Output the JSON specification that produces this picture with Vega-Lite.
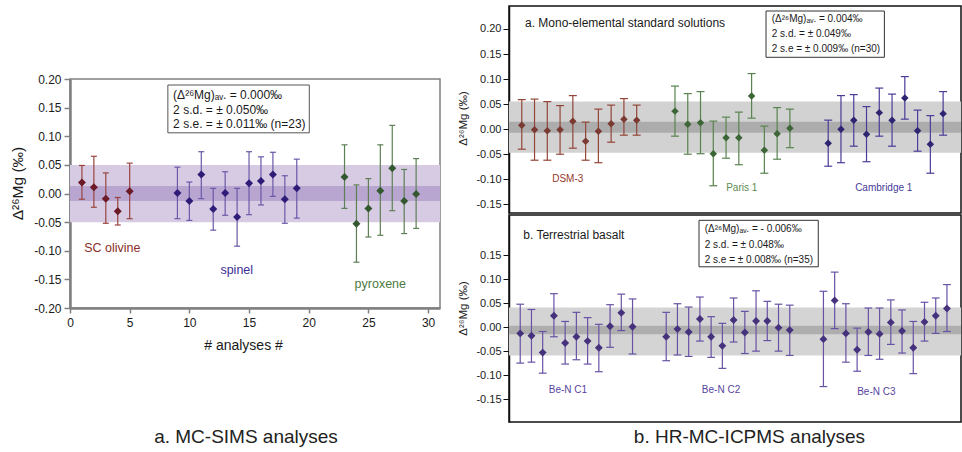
{
"$schema": "https://vega.github.io/schema/vega-lite/v6.json",
"padding": {"left": 9, "top": 5, "right": 0, "bottom": 0},
"background": "white",
"resolve": {"scale": {"color": "independent", "fill": "independent", "stroke": "independent"}},
"config": {
  "font": "Liberation Sans",
  "locale": {"number": {"decimal": ".", "thousands": ",", "grouping": [3], "currency": ["$", ""], "minus": "-"}},
  "axis": {"grid": false, "labelFont": "Liberation Sans", "titleFont": "Liberation Sans", "titleFontWeight": "normal"},
  "title": {"font": "Liberation Sans", "fontWeight": "normal", "color": "#222"}
},
"datasets": {
  "left": [
    {"x":1,"v":0.019,"lo":-0.010,"hi":0.049,"g":"SC olivine"},
    {"x":2,"v":0.011,"lo":-0.024,"hi":0.065,"g":"SC olivine"},
    {"x":3,"v":-0.009,"lo":-0.052,"hi":0.036,"g":"SC olivine"},
    {"x":4,"v":-0.031,"lo":-0.055,"hi":-0.007,"g":"SC olivine"},
    {"x":5,"v":0.004,"lo":-0.044,"hi":0.053,"g":"SC olivine"},
    {"x":9,"v":0.001,"lo":-0.044,"hi":0.046,"g":"spinel"},
    {"x":10,"v":-0.013,"lo":-0.047,"hi":0.020,"g":"spinel"},
    {"x":11,"v":0.033,"lo":-0.009,"hi":0.073,"g":"spinel"},
    {"x":12,"v":-0.027,"lo":-0.064,"hi":0.009,"g":"spinel"},
    {"x":13,"v":0.001,"lo":-0.038,"hi":0.038,"g":"spinel"},
    {"x":14,"v":-0.041,"lo":-0.092,"hi":0.009,"g":"spinel"},
    {"x":15,"v":0.018,"lo":-0.037,"hi":0.073,"g":"spinel"},
    {"x":16,"v":0.022,"lo":-0.020,"hi":0.064,"g":"spinel"},
    {"x":17,"v":0.033,"lo":-0.005,"hi":0.072,"g":"spinel"},
    {"x":18,"v":-0.010,"lo":-0.052,"hi":0.031,"g":"spinel"},
    {"x":19,"v":0.009,"lo":-0.043,"hi":0.060,"g":"spinel"},
    {"x":23,"v":0.029,"lo":-0.026,"hi":0.085,"g":"pyroxene"},
    {"x":24,"v":-0.053,"lo":-0.120,"hi":0.015,"g":"pyroxene"},
    {"x":25,"v":-0.026,"lo":-0.076,"hi":0.026,"g":"pyroxene"},
    {"x":26,"v":0.005,"lo":-0.073,"hi":0.085,"g":"pyroxene"},
    {"x":27,"v":0.044,"lo":-0.030,"hi":0.119,"g":"pyroxene"},
    {"x":28,"v":-0.013,"lo":-0.070,"hi":0.042,"g":"pyroxene"},
    {"x":29,"v":-0.001,"lo":-0.061,"hi":0.061,"g":"pyroxene"}
  ],
  "leftBands": [{"k":"sd","lo":-0.050,"hi":0.050},{"k":"se","lo":-0.013,"hi":0.013}],
  "leftLabels": [{"g":"SC olivine","lx":3.55,"ly":-0.0946},{"g":"spinel","lx":13.97,"ly":-0.133},{"g":"pyroxene","lx":26.0,"ly":-0.1575}],
  "leftBox": [{"x1":8.2,"x2":20.05,"y1":0.106,"y2":0.1895}],
  "leftLines": [{"tx":8.64,"ty":0.172,"t":"(Δ²⁶Mg)ₐᵥ. = 0.000‰"},{"tx":8.64,"ty":0.1458,"t":"2 s.d. = ± 0.050‰"},{"tx":8.64,"ty":0.1206,"t":"2 s.e. = ± 0.011‰ (n=23)"}],
  "rt": [
    {"x":1,"v":0.008,"lo":-0.040,"hi":0.059,"g":"DSM-3"},
    {"x":2,"v":-0.001,"lo":-0.062,"hi":0.060,"g":"DSM-3"},
    {"x":3,"v":-0.003,"lo":-0.062,"hi":0.055,"g":"DSM-3"},
    {"x":4,"v":-0.001,"lo":-0.050,"hi":0.047,"g":"DSM-3"},
    {"x":5,"v":0.016,"lo":-0.038,"hi":0.067,"g":"DSM-3"},
    {"x":6,"v":-0.024,"lo":-0.062,"hi":0.014,"g":"DSM-3"},
    {"x":7,"v":-0.004,"lo":-0.067,"hi":0.040,"g":"DSM-3"},
    {"x":8,"v":0.011,"lo":-0.026,"hi":0.048,"g":"DSM-3"},
    {"x":9,"v":0.020,"lo":-0.012,"hi":0.061,"g":"DSM-3"},
    {"x":10,"v":0.018,"lo":-0.012,"hi":0.048,"g":"DSM-3"},
    {"x":13,"v":0.036,"lo":-0.014,"hi":0.086,"g":"Paris 1"},
    {"x":14,"v":0.010,"lo":-0.050,"hi":0.071,"g":"Paris 1"},
    {"x":15,"v":0.013,"lo":-0.049,"hi":0.075,"g":"Paris 1"},
    {"x":16,"v":-0.049,"lo":-0.113,"hi":0.016,"g":"Paris 1"},
    {"x":17,"v":-0.017,"lo":-0.058,"hi":0.024,"g":"Paris 1"},
    {"x":18,"v":-0.017,"lo":-0.071,"hi":0.034,"g":"Paris 1"},
    {"x":19,"v":0.066,"lo":0.022,"hi":0.111,"g":"Paris 1"},
    {"x":20,"v":-0.042,"lo":-0.088,"hi":0.006,"g":"Paris 1"},
    {"x":21,"v":-0.009,"lo":-0.060,"hi":0.043,"g":"Paris 1"},
    {"x":22,"v":0.002,"lo":-0.037,"hi":0.040,"g":"Paris 1"},
    {"x":25,"v":-0.028,"lo":-0.074,"hi":0.018,"g":"Cambridge 1"},
    {"x":26,"v":0.000,"lo":-0.067,"hi":0.067,"g":"Cambridge 1"},
    {"x":27,"v":0.018,"lo":-0.034,"hi":0.069,"g":"Cambridge 1"},
    {"x":28,"v":-0.010,"lo":-0.065,"hi":0.045,"g":"Cambridge 1"},
    {"x":29,"v":0.033,"lo":-0.014,"hi":0.082,"g":"Cambridge 1"},
    {"x":30,"v":0.018,"lo":-0.034,"hi":0.070,"g":"Cambridge 1"},
    {"x":31,"v":0.062,"lo":0.020,"hi":0.105,"g":"Cambridge 1"},
    {"x":32,"v":-0.003,"lo":-0.044,"hi":0.038,"g":"Cambridge 1"},
    {"x":33,"v":-0.030,"lo":-0.088,"hi":0.027,"g":"Cambridge 1"},
    {"x":34,"v":0.031,"lo":-0.012,"hi":0.075,"g":"Cambridge 1"}
  ],
  "rtBands": [{"k":"sd","lo":-0.047,"hi":0.055},{"k":"se","lo":-0.007,"hi":0.015}],
  "rtLabels": [{"g":"DSM-3","lx":4.6,"ly":-0.0995},{"g":"Paris 1","lx":18.23,"ly":-0.1168},{"g":"Cambridge 1","lx":29.35,"ly":-0.1168}],
  "rtBox": [{"x1":20.13,"x2":29.4,"y1":0.1435,"y2":0.2359}],
  "rtLines": [{"tx":20.58,"ty":0.2199,"t":"(Δ²⁶Mg)ₐᵥ. = 0.004‰"},{"tx":20.58,"ty":0.1894,"t":"2 s.d. = ± 0.049‰"},{"tx":20.58,"ty":0.1595,"t":"2 s.e = ± 0.009‰ (n=30)"},{"tx":1.25,"ty":0.2114,"t":"a. Mono-elemental standard solutions"}],
  "rb": [
    {"x":1,"v":-0.013,"lo":-0.075,"hi":0.048},
    {"x":2,"v":-0.018,"lo":-0.073,"hi":0.037},
    {"x":3,"v":-0.053,"lo":-0.096,"hi":-0.009},
    {"x":4,"v":0.024,"lo":-0.020,"hi":0.070},
    {"x":5,"v":-0.033,"lo":-0.077,"hi":0.012},
    {"x":6,"v":-0.020,"lo":-0.068,"hi":0.031},
    {"x":7,"v":-0.029,"lo":-0.077,"hi":0.020},
    {"x":8,"v":-0.043,"lo":-0.093,"hi":0.006},
    {"x":9,"v":0.002,"lo":-0.042,"hi":0.047},
    {"x":10,"v":0.030,"lo":-0.007,"hi":0.069},
    {"x":11,"v":0.001,"lo":-0.056,"hi":0.059},
    {"x":14,"v":-0.020,"lo":-0.070,"hi":0.031},
    {"x":15,"v":-0.004,"lo":-0.058,"hi":0.049},
    {"x":16,"v":-0.010,"lo":-0.061,"hi":0.042},
    {"x":17,"v":0.017,"lo":-0.029,"hi":0.063},
    {"x":18,"v":-0.020,"lo":-0.063,"hi":0.022},
    {"x":19,"v":-0.039,"lo":-0.086,"hi":0.008},
    {"x":20,"v":0.015,"lo":-0.031,"hi":0.061},
    {"x":21,"v":-0.011,"lo":-0.055,"hi":0.033},
    {"x":22,"v":0.013,"lo":-0.050,"hi":0.076},
    {"x":23,"v":0.013,"lo":-0.028,"hi":0.054},
    {"x":24,"v":-0.001,"lo":-0.050,"hi":0.048},
    {"x":25,"v":-0.006,"lo":-0.059,"hi":0.046},
    {"x":28,"v":-0.025,"lo":-0.124,"hi":0.075},
    {"x":29,"v":0.056,"lo":-0.003,"hi":0.115},
    {"x":30,"v":-0.013,"lo":-0.073,"hi":0.049},
    {"x":31,"v":-0.047,"lo":-0.092,"hi":-0.002},
    {"x":32,"v":-0.010,"lo":-0.059,"hi":0.040},
    {"x":33,"v":-0.014,"lo":-0.067,"hi":0.040},
    {"x":34,"v":0.010,"lo":-0.036,"hi":0.057},
    {"x":35,"v":-0.008,"lo":-0.054,"hi":0.036},
    {"x":36,"v":-0.043,"lo":-0.097,"hi":0.012},
    {"x":37,"v":0.011,"lo":-0.029,"hi":0.052},
    {"x":38,"v":0.024,"lo":-0.013,"hi":0.061},
    {"x":39,"v":0.039,"lo":-0.009,"hi":0.089}
  ],
  "rbBands": [{"k":"sd","lo":-0.059,"hi":0.041},{"k":"se","lo":-0.015,"hi":0.003}],
  "rbLabels": [{"g":"Be-N C1","lx":5.25,"ly":-0.1305},{"g":"Be-N C2","lx":18.88,"ly":-0.132},{"g":"Be-N C3","lx":32.71,"ly":-0.136}],
  "rbBox": [{"x1":16.92,"x2":27.54,"y1":0.1261,"y2":0.2232}],
  "rbLines": [{"tx":17.43,"ty":0.2044,"t":"(Δ²⁶Mg)ₐᵥ. = - 0.006‰"},{"tx":17.43,"ty":0.1722,"t":"2 s.d. = ± 0.048‰"},{"tx":17.43,"ty":0.1407,"t":"2 s.e = ± 0.008‰ (n=35)"},{"tx":1.27,"ty":0.1924,"t":"b. Terrestrial basalt"}]
},
"spacing": 16,
"hconcat": [
  {
    "spacing": 0,
    "vconcat": [
      {"width": 370, "height": 66, "view": {"stroke": null}, "data": {"values": [{}]}, "mark": {"type": "point", "opacity": 0}},
      {
        "width": 370, "height": 229,
        "view": {"stroke": "#808080", "strokeWidth": 1.5},
        "title": {"text": "a. MC-SIMS analyses", "orient": "bottom", "anchor": "middle", "frame": "group", "dx": -9, "offset": 76, "fontSize": 19, "fontWeight": "normal", "color": "#222"},
        "layer": [
          {"data": {"name": "leftBands"}, "transform": [{"filter": "datum.k == 'sd'"}], "mark": {"type": "rect", "color": "#d7cbe4"},
           "encoding": {"y": {"field": "lo", "type": "quantitative", "scale": {"domain": [-0.2, 0.2], "nice": false, "zero": false}, "title": "Δ²⁶Mg (‰)",
                   "axis": {"values": [-0.2,-0.15,-0.1,-0.05,0,0.05,0.1,0.15,0.2], "format": ".2f", "domainColor": "#808080", "domainWidth": 2.5, "tickColor": "#808080", "tickWidth": 1.5, "tickSize": 6, "labelFontSize": 12, "labelColor": "#1a1a1a", "labelPadding": 3, "titleFontSize": 15.5, "titleColor": "#1a1a1a", "titlePadding": 8, "titleY": 104}}, "y2": {"field": "hi"}}},
          {"data": {"name": "leftBands"}, "transform": [{"filter": "datum.k == 'se'"}], "mark": {"type": "rect", "color": "#b9a6d0"},
           "encoding": {"y": {"field": "lo", "type": "quantitative", "scale": {"domain": [-0.2, 0.2], "nice": false, "zero": false}, "title": "Δ²⁶Mg (‰)",
                   "axis": {"values": [-0.2,-0.15,-0.1,-0.05,0,0.05,0.1,0.15,0.2], "format": ".2f", "domainColor": "#808080", "domainWidth": 2.5, "tickColor": "#808080", "tickWidth": 1.5, "tickSize": 6, "labelFontSize": 12, "labelColor": "#1a1a1a", "labelPadding": 3, "titleFontSize": 15.5, "titleColor": "#1a1a1a", "titlePadding": 8, "titleY": 104}}, "y2": {"field": "hi"}}},
          {"data": {"name": "left"}, "mark": {"type": "rule", "strokeWidth": 1.2},
           "encoding": {
             "x": {"field": "x", "type": "quantitative", "scale": {"domain": [0, 31], "nice": false, "zero": false}, "title": "# analyses #",
                   "axis": {"values": [0,5,10,15,20,25,30], "format": "d", "labelFlush": false, "domainColor": "#808080", "domainWidth": 2.5, "tickColor": "#808080", "tickWidth": 1.5, "tickSize": 5, "labelFontSize": 12, "labelColor": "#1a1a1a", "labelPadding": 4, "titleFontSize": 14, "titleColor": "#1a1a1a", "titlePadding": 10, "titleX": 173}},
             "y": {"field": "lo", "type": "quantitative", "scale": {"domain": [-0.2, 0.2], "nice": false, "zero": false}, "title": "Δ²⁶Mg (‰)",
                   "axis": {"values": [-0.2,-0.15,-0.1,-0.05,0,0.05,0.1,0.15,0.2], "format": ".2f", "domainColor": "#808080", "domainWidth": 2.5, "tickColor": "#808080", "tickWidth": 1.5, "tickSize": 6, "labelFontSize": 12, "labelColor": "#1a1a1a", "labelPadding": 3, "titleFontSize": 15.5, "titleColor": "#1a1a1a", "titlePadding": 8, "titleY": 104}},
             "y2": {"field": "hi"},
             "stroke": {"field": "g", "type": "nominal", "scale": {"domain": ["SC olivine", "spinel", "pyroxene"], "range": ["#9a4440", "#6a58a8", "#5d7f55"]}, "legend": null}
           }},
          {"data": {"name": "left"}, "transform": [{"fold": ["lo", "hi"], "as": ["end", "ev"]}], "mark": {"type": "point", "shape": "stroke", "size": 36, "strokeWidth": 1.2, "opacity": 1},
           "encoding": {
             "x": {"field": "x", "type": "quantitative", "scale": {"domain": [0, 31], "nice": false, "zero": false}, "title": "# analyses #",
                   "axis": {"values": [0,5,10,15,20,25,30], "format": "d", "labelFlush": false, "domainColor": "#808080", "domainWidth": 2.5, "tickColor": "#808080", "tickWidth": 1.5, "tickSize": 5, "labelFontSize": 12, "labelColor": "#1a1a1a", "labelPadding": 4, "titleFontSize": 14, "titleColor": "#1a1a1a", "titlePadding": 10, "titleX": 173}},
             "y": {"field": "ev", "type": "quantitative", "scale": {"domain": [-0.2, 0.2], "nice": false, "zero": false}, "title": "Δ²⁶Mg (‰)",
                   "axis": {"values": [-0.2,-0.15,-0.1,-0.05,0,0.05,0.1,0.15,0.2], "format": ".2f", "domainColor": "#808080", "domainWidth": 2.5, "tickColor": "#808080", "tickWidth": 1.5, "tickSize": 6, "labelFontSize": 12, "labelColor": "#1a1a1a", "labelPadding": 3, "titleFontSize": 15.5, "titleColor": "#1a1a1a", "titlePadding": 8, "titleY": 104}},
             "stroke": {"field": "g", "type": "nominal", "scale": {"domain": ["SC olivine", "spinel", "pyroxene"], "range": ["#9a4440", "#6a58a8", "#5d7f55"]}, "legend": null}
           }},
          {"data": {"name": "left"}, "mark": {"type": "point", "shape": "diamond", "filled": true, "size": 64, "opacity": 1, "strokeWidth": 0},
           "encoding": {
             "x": {"field": "x", "type": "quantitative", "scale": {"domain": [0, 31], "nice": false, "zero": false}, "title": "# analyses #",
                   "axis": {"values": [0,5,10,15,20,25,30], "format": "d", "labelFlush": false, "domainColor": "#808080", "domainWidth": 2.5, "tickColor": "#808080", "tickWidth": 1.5, "tickSize": 5, "labelFontSize": 12, "labelColor": "#1a1a1a", "labelPadding": 4, "titleFontSize": 14, "titleColor": "#1a1a1a", "titlePadding": 10, "titleX": 173}},
             "y": {"field": "v", "type": "quantitative", "scale": {"domain": [-0.2, 0.2], "nice": false, "zero": false}, "title": "Δ²⁶Mg (‰)",
                   "axis": {"values": [-0.2,-0.15,-0.1,-0.05,0,0.05,0.1,0.15,0.2], "format": ".2f", "domainColor": "#808080", "domainWidth": 2.5, "tickColor": "#808080", "tickWidth": 1.5, "tickSize": 6, "labelFontSize": 12, "labelColor": "#1a1a1a", "labelPadding": 3, "titleFontSize": 15.5, "titleColor": "#1a1a1a", "titlePadding": 8, "titleY": 104}},
             "fill": {"field": "g", "type": "nominal", "scale": {"domain": ["SC olivine", "spinel", "pyroxene"], "range": ["#6b1a26", "#2e1c78", "#33582f"]}, "legend": null}
           }},
          {"data": {"name": "leftLabels"}, "mark": {"type": "text", "fontSize": 12.5, "align": "center", "baseline": "middle"},
           "encoding": {
             "x": {"field": "lx", "type": "quantitative", "scale": {"domain": [0, 31], "nice": false, "zero": false}, "title": "# analyses #",
                   "axis": {"values": [0,5,10,15,20,25,30], "format": "d", "labelFlush": false, "domainColor": "#808080", "domainWidth": 2.5, "tickColor": "#808080", "tickWidth": 1.5, "tickSize": 5, "labelFontSize": 12, "labelColor": "#1a1a1a", "labelPadding": 4, "titleFontSize": 14, "titleColor": "#1a1a1a", "titlePadding": 10, "titleX": 173}},
             "y": {"field": "ly", "type": "quantitative", "scale": {"domain": [-0.2, 0.2], "nice": false, "zero": false}, "title": "Δ²⁶Mg (‰)",
                   "axis": {"values": [-0.2,-0.15,-0.1,-0.05,0,0.05,0.1,0.15,0.2], "format": ".2f", "domainColor": "#808080", "domainWidth": 2.5, "tickColor": "#808080", "tickWidth": 1.5, "tickSize": 6, "labelFontSize": 12, "labelColor": "#1a1a1a", "labelPadding": 3, "titleFontSize": 15.5, "titleColor": "#1a1a1a", "titlePadding": 8, "titleY": 104}},
             "text": {"field": "g"},
             "color": {"field": "g", "type": "nominal", "scale": {"domain": ["SC olivine", "spinel", "pyroxene"], "range": ["#8a2e26", "#3b2f96", "#4d7a44"]}, "legend": null}
           }},
          {"data": {"name": "leftBox"}, "mark": {"type": "rect", "fill": "white", "stroke": "#555", "strokeWidth": 1},
           "encoding": {
             "x": {"field": "x1", "type": "quantitative", "scale": {"domain": [0, 31], "nice": false, "zero": false}, "title": "# analyses #",
                   "axis": {"values": [0,5,10,15,20,25,30], "format": "d", "labelFlush": false, "domainColor": "#808080", "domainWidth": 2.5, "tickColor": "#808080", "tickWidth": 1.5, "tickSize": 5, "labelFontSize": 12, "labelColor": "#1a1a1a", "labelPadding": 4, "titleFontSize": 14, "titleColor": "#1a1a1a", "titlePadding": 10, "titleX": 173}},
             "x2": {"field": "x2"},
             "y": {"field": "y1", "type": "quantitative", "scale": {"domain": [-0.2, 0.2], "nice": false, "zero": false}, "title": "Δ²⁶Mg (‰)",
                   "axis": {"values": [-0.2,-0.15,-0.1,-0.05,0,0.05,0.1,0.15,0.2], "format": ".2f", "domainColor": "#808080", "domainWidth": 2.5, "tickColor": "#808080", "tickWidth": 1.5, "tickSize": 6, "labelFontSize": 12, "labelColor": "#1a1a1a", "labelPadding": 3, "titleFontSize": 15.5, "titleColor": "#1a1a1a", "titlePadding": 8, "titleY": 104}},
             "y2": {"field": "y2"}
           }},
          {"data": {"name": "leftLines"}, "mark": {"type": "text", "fontSize": 12, "align": "left", "baseline": "middle", "color": "#1a1a1a"},
           "encoding": {
             "x": {"field": "tx", "type": "quantitative", "scale": {"domain": [0, 31], "nice": false, "zero": false}, "title": "# analyses #",
                   "axis": {"values": [0,5,10,15,20,25,30], "format": "d", "labelFlush": false, "domainColor": "#808080", "domainWidth": 2.5, "tickColor": "#808080", "tickWidth": 1.5, "tickSize": 5, "labelFontSize": 12, "labelColor": "#1a1a1a", "labelPadding": 4, "titleFontSize": 14, "titleColor": "#1a1a1a", "titlePadding": 10, "titleX": 173}},
             "y": {"field": "ty", "type": "quantitative", "scale": {"domain": [-0.2, 0.2], "nice": false, "zero": false}, "title": "Δ²⁶Mg (‰)",
                   "axis": {"values": [-0.2,-0.15,-0.1,-0.05,0,0.05,0.1,0.15,0.2], "format": ".2f", "domainColor": "#808080", "domainWidth": 2.5, "tickColor": "#808080", "tickWidth": 1.5, "tickSize": 6, "labelFontSize": 12, "labelColor": "#1a1a1a", "labelPadding": 3, "titleFontSize": 15.5, "titleColor": "#1a1a1a", "titlePadding": 8, "titleY": 104}},
             "text": {"field": "t"}
           }}
        ]
      }
    ]
  },
  {
    "spacing": 0,
    "resolve": {"scale": {"color": "independent", "fill": "independent", "stroke": "independent"}},
    "title": {"text": "b. HR-MC-ICPMS analyses", "orient": "bottom", "anchor": "middle", "frame": "bounds", "dx": 40, "offset": 5, "fontSize": 19, "fontWeight": "normal", "color": "#222"},
    "vconcat": [
      {
        "width": 452, "height": 207,
        "view": {"stroke": "#111", "strokeWidth": 1.5},
        "layer": [
          {"data": {"name": "rtBands"}, "transform": [{"filter": "datum.k == 'sd'"}], "mark": {"type": "rect", "color": "#d2d2d2"},
           "encoding": {"y": {"field": "lo", "type": "quantitative", "scale": {"domain": [-0.1674, 0.2459], "nice": false, "zero": false}, "title": "Δ²⁶Mg (‰)",
                   "axis": {"values": [-0.15,-0.1,-0.05,0,0.05,0.1,0.15,0.2], "format": ".2f", "domainColor": "#111", "domainWidth": 1.5, "tickColor": "#111", "tickWidth": 1, "tickSize": 6, "labelFontSize": 11, "labelColor": "#1a1a1a", "labelPadding": 2, "titleFontSize": 11.5, "titleColor": "#1a1a1a", "titlePadding": 7, "titleY": 112}}, "y2": {"field": "hi"}}},
          {"data": {"name": "rtBands"}, "transform": [{"filter": "datum.k == 'se'"}], "mark": {"type": "rect", "color": "#acacac"},
           "encoding": {"y": {"field": "lo", "type": "quantitative", "scale": {"domain": [-0.1674, 0.2459], "nice": false, "zero": false}, "title": "Δ²⁶Mg (‰)",
                   "axis": {"values": [-0.15,-0.1,-0.05,0,0.05,0.1,0.15,0.2], "format": ".2f", "domainColor": "#111", "domainWidth": 1.5, "tickColor": "#111", "tickWidth": 1, "tickSize": 6, "labelFontSize": 11, "labelColor": "#1a1a1a", "labelPadding": 2, "titleFontSize": 11.5, "titleColor": "#1a1a1a", "titlePadding": 7, "titleY": 112}}, "y2": {"field": "hi"}}},
          {"data": {"name": "rt"}, "mark": {"type": "rule", "strokeWidth": 1.2},
           "encoding": {
             "x": {"field": "x", "type": "quantitative", "scale": {"domain": [0, 35.4], "nice": false, "zero": false}, "axis": null},
             "y": {"field": "lo", "type": "quantitative", "scale": {"domain": [-0.1674, 0.2459], "nice": false, "zero": false}, "title": "Δ²⁶Mg (‰)",
                   "axis": {"values": [-0.15,-0.1,-0.05,0,0.05,0.1,0.15,0.2], "format": ".2f", "domainColor": "#111", "domainWidth": 1.5, "tickColor": "#111", "tickWidth": 1, "tickSize": 6, "labelFontSize": 11, "labelColor": "#1a1a1a", "labelPadding": 2, "titleFontSize": 11.5, "titleColor": "#1a1a1a", "titlePadding": 7, "titleY": 112}},
             "y2": {"field": "hi"},
             "stroke": {"field": "g", "type": "nominal", "scale": {"domain": ["DSM-3", "Paris 1", "Cambridge 1"], "range": ["#934638", "#58834e", "#4a3c98"]}, "legend": null}
           }},
          {"data": {"name": "rt"}, "transform": [{"fold": ["lo", "hi"], "as": ["end", "ev"]}], "mark": {"type": "point", "shape": "stroke", "size": 64, "strokeWidth": 1.2, "opacity": 1},
           "encoding": {
             "x": {"field": "x", "type": "quantitative", "scale": {"domain": [0, 35.4], "nice": false, "zero": false}, "axis": null},
             "y": {"field": "ev", "type": "quantitative", "scale": {"domain": [-0.1674, 0.2459], "nice": false, "zero": false}, "title": "Δ²⁶Mg (‰)",
                   "axis": {"values": [-0.15,-0.1,-0.05,0,0.05,0.1,0.15,0.2], "format": ".2f", "domainColor": "#111", "domainWidth": 1.5, "tickColor": "#111", "tickWidth": 1, "tickSize": 6, "labelFontSize": 11, "labelColor": "#1a1a1a", "labelPadding": 2, "titleFontSize": 11.5, "titleColor": "#1a1a1a", "titlePadding": 7, "titleY": 112}},
             "stroke": {"field": "g", "type": "nominal", "scale": {"domain": ["DSM-3", "Paris 1", "Cambridge 1"], "range": ["#934638", "#58834e", "#4a3c98"]}, "legend": null}
           }},
          {"data": {"name": "rt"}, "mark": {"type": "point", "shape": "diamond", "filled": true, "size": 56, "opacity": 1, "strokeWidth": 0},
           "encoding": {
             "x": {"field": "x", "type": "quantitative", "scale": {"domain": [0, 35.4], "nice": false, "zero": false}, "axis": null},
             "y": {"field": "v", "type": "quantitative", "scale": {"domain": [-0.1674, 0.2459], "nice": false, "zero": false}, "title": "Δ²⁶Mg (‰)",
                   "axis": {"values": [-0.15,-0.1,-0.05,0,0.05,0.1,0.15,0.2], "format": ".2f", "domainColor": "#111", "domainWidth": 1.5, "tickColor": "#111", "tickWidth": 1, "tickSize": 6, "labelFontSize": 11, "labelColor": "#1a1a1a", "labelPadding": 2, "titleFontSize": 11.5, "titleColor": "#1a1a1a", "titlePadding": 7, "titleY": 112}},
             "fill": {"field": "g", "type": "nominal", "scale": {"domain": ["DSM-3", "Paris 1", "Cambridge 1"], "range": ["#7a3a32", "#3c6636", "#2d2572"]}, "legend": null}
           }},
          {"data": {"name": "rtLabels"}, "mark": {"type": "text", "fontSize": 10, "align": "center", "baseline": "middle"},
           "encoding": {
             "x": {"field": "lx", "type": "quantitative", "scale": {"domain": [0, 35.4], "nice": false, "zero": false}, "axis": null},
             "y": {"field": "ly", "type": "quantitative", "scale": {"domain": [-0.1674, 0.2459], "nice": false, "zero": false}, "title": "Δ²⁶Mg (‰)",
                   "axis": {"values": [-0.15,-0.1,-0.05,0,0.05,0.1,0.15,0.2], "format": ".2f", "domainColor": "#111", "domainWidth": 1.5, "tickColor": "#111", "tickWidth": 1, "tickSize": 6, "labelFontSize": 11, "labelColor": "#1a1a1a", "labelPadding": 2, "titleFontSize": 11.5, "titleColor": "#1a1a1a", "titlePadding": 7, "titleY": 112}},
             "text": {"field": "g"},
             "color": {"field": "g", "type": "nominal", "scale": {"domain": ["DSM-3", "Paris 1", "Cambridge 1"], "range": ["#98382c", "#5a8a4e", "#463a9a"]}, "legend": null}
           }},
          {"data": {"name": "rtBox"}, "mark": {"type": "rect", "fill": "white", "stroke": "#333", "strokeWidth": 1},
           "encoding": {
             "x": {"field": "x1", "type": "quantitative", "scale": {"domain": [0, 35.4], "nice": false, "zero": false}, "axis": null},
             "x2": {"field": "x2"},
             "y": {"field": "y1", "type": "quantitative", "scale": {"domain": [-0.1674, 0.2459], "nice": false, "zero": false}, "title": "Δ²⁶Mg (‰)",
                   "axis": {"values": [-0.15,-0.1,-0.05,0,0.05,0.1,0.15,0.2], "format": ".2f", "domainColor": "#111", "domainWidth": 1.5, "tickColor": "#111", "tickWidth": 1, "tickSize": 6, "labelFontSize": 11, "labelColor": "#1a1a1a", "labelPadding": 2, "titleFontSize": 11.5, "titleColor": "#1a1a1a", "titlePadding": 7, "titleY": 112}},
             "y2": {"field": "y2"}
           }},
          {"data": {"name": "rtLines"}, "mark": {"type": "text", "align": "left", "baseline": "middle", "color": "#1a1a1a"},
           "encoding": {
             "x": {"field": "tx", "type": "quantitative", "scale": {"domain": [0, 35.4], "nice": false, "zero": false}, "axis": null},
             "y": {"field": "ty", "type": "quantitative", "scale": {"domain": [-0.1674, 0.2459], "nice": false, "zero": false}, "title": "Δ²⁶Mg (‰)",
                   "axis": {"values": [-0.15,-0.1,-0.05,0,0.05,0.1,0.15,0.2], "format": ".2f", "domainColor": "#111", "domainWidth": 1.5, "tickColor": "#111", "tickWidth": 1, "tickSize": 6, "labelFontSize": 11, "labelColor": "#1a1a1a", "labelPadding": 2, "titleFontSize": 11.5, "titleColor": "#1a1a1a", "titlePadding": 7, "titleY": 112}},
             "text": {"field": "t"},
             "size": {"condition": {"test": "datum.tx < 5", "value": 12}, "value": 10}
           }}
        ]
      },
      {
        "width": 452, "height": 207,
        "view": {"stroke": "#111", "strokeWidth": 1.5},
        "layer": [
          {"data": {"name": "rbBands"}, "transform": [{"filter": "datum.k == 'sd'"}], "mark": {"type": "rect", "color": "#d4d4d4"},
           "encoding": {"y": {"field": "lo", "type": "quantitative", "scale": {"domain": [-0.198, 0.2343], "nice": false, "zero": false}, "title": "Δ²⁶Mg (‰)",
                   "axis": {"values": [-0.15,-0.1,-0.05,0,0.05,0.1,0.15], "format": ".2f", "domainColor": "#111", "domainWidth": 1.5, "tickColor": "#111", "tickWidth": 1, "tickSize": 6, "labelFontSize": 11, "labelColor": "#1a1a1a", "labelPadding": 2, "titleFontSize": 11.5, "titleColor": "#1a1a1a", "titlePadding": 7, "titleY": 93}}, "y2": {"field": "hi"}}},
          {"data": {"name": "rbBands"}, "transform": [{"filter": "datum.k == 'se'"}], "mark": {"type": "rect", "color": "#aeaeae"},
           "encoding": {"y": {"field": "lo", "type": "quantitative", "scale": {"domain": [-0.198, 0.2343], "nice": false, "zero": false}, "title": "Δ²⁶Mg (‰)",
                   "axis": {"values": [-0.15,-0.1,-0.05,0,0.05,0.1,0.15], "format": ".2f", "domainColor": "#111", "domainWidth": 1.5, "tickColor": "#111", "tickWidth": 1, "tickSize": 6, "labelFontSize": 11, "labelColor": "#1a1a1a", "labelPadding": 2, "titleFontSize": 11.5, "titleColor": "#1a1a1a", "titlePadding": 7, "titleY": 93}}, "y2": {"field": "hi"}}},
          {"data": {"name": "rb"}, "mark": {"type": "rule", "strokeWidth": 1.2, "color": "#6852a4"},
           "encoding": {
             "x": {"field": "x", "type": "quantitative", "scale": {"domain": [0, 40.25], "nice": false, "zero": false}, "axis": null},
             "y": {"field": "lo", "type": "quantitative", "scale": {"domain": [-0.198, 0.2343], "nice": false, "zero": false}, "title": "Δ²⁶Mg (‰)",
                   "axis": {"values": [-0.15,-0.1,-0.05,0,0.05,0.1,0.15], "format": ".2f", "domainColor": "#111", "domainWidth": 1.5, "tickColor": "#111", "tickWidth": 1, "tickSize": 6, "labelFontSize": 11, "labelColor": "#1a1a1a", "labelPadding": 2, "titleFontSize": 11.5, "titleColor": "#1a1a1a", "titlePadding": 7, "titleY": 93}},
             "y2": {"field": "hi"}
           }},
          {"data": {"name": "rb"}, "transform": [{"fold": ["lo", "hi"], "as": ["end", "ev"]}], "mark": {"type": "point", "shape": "stroke", "size": 60, "strokeWidth": 1.2, "opacity": 1, "color": "#6852a4"},
           "encoding": {
             "x": {"field": "x", "type": "quantitative", "scale": {"domain": [0, 40.25], "nice": false, "zero": false}, "axis": null},
             "y": {"field": "ev", "type": "quantitative", "scale": {"domain": [-0.198, 0.2343], "nice": false, "zero": false}, "title": "Δ²⁶Mg (‰)",
                   "axis": {"values": [-0.15,-0.1,-0.05,0,0.05,0.1,0.15], "format": ".2f", "domainColor": "#111", "domainWidth": 1.5, "tickColor": "#111", "tickWidth": 1, "tickSize": 6, "labelFontSize": 11, "labelColor": "#1a1a1a", "labelPadding": 2, "titleFontSize": 11.5, "titleColor": "#1a1a1a", "titlePadding": 7, "titleY": 93}}
           }},
          {"data": {"name": "rb"}, "mark": {"type": "point", "shape": "diamond", "filled": true, "size": 62, "opacity": 1, "strokeWidth": 0, "color": "#45317c"},
           "encoding": {
             "x": {"field": "x", "type": "quantitative", "scale": {"domain": [0, 40.25], "nice": false, "zero": false}, "axis": null},
             "y": {"field": "v", "type": "quantitative", "scale": {"domain": [-0.198, 0.2343], "nice": false, "zero": false}, "title": "Δ²⁶Mg (‰)",
                   "axis": {"values": [-0.15,-0.1,-0.05,0,0.05,0.1,0.15], "format": ".2f", "domainColor": "#111", "domainWidth": 1.5, "tickColor": "#111", "tickWidth": 1, "tickSize": 6, "labelFontSize": 11, "labelColor": "#1a1a1a", "labelPadding": 2, "titleFontSize": 11.5, "titleColor": "#1a1a1a", "titlePadding": 7, "titleY": 93}}
           }},
          {"data": {"name": "rbLabels"}, "mark": {"type": "text", "fontSize": 10, "align": "center", "baseline": "middle", "color": "#5644a0"},
           "encoding": {
             "x": {"field": "lx", "type": "quantitative", "scale": {"domain": [0, 40.25], "nice": false, "zero": false}, "axis": null},
             "y": {"field": "ly", "type": "quantitative", "scale": {"domain": [-0.198, 0.2343], "nice": false, "zero": false}, "title": "Δ²⁶Mg (‰)",
                   "axis": {"values": [-0.15,-0.1,-0.05,0,0.05,0.1,0.15], "format": ".2f", "domainColor": "#111", "domainWidth": 1.5, "tickColor": "#111", "tickWidth": 1, "tickSize": 6, "labelFontSize": 11, "labelColor": "#1a1a1a", "labelPadding": 2, "titleFontSize": 11.5, "titleColor": "#1a1a1a", "titlePadding": 7, "titleY": 93}},
             "text": {"field": "g"}
           }},
          {"data": {"name": "rbBox"}, "mark": {"type": "rect", "fill": "white", "stroke": "#333", "strokeWidth": 1},
           "encoding": {
             "x": {"field": "x1", "type": "quantitative", "scale": {"domain": [0, 40.25], "nice": false, "zero": false}, "axis": null},
             "x2": {"field": "x2"},
             "y": {"field": "y1", "type": "quantitative", "scale": {"domain": [-0.198, 0.2343], "nice": false, "zero": false}, "title": "Δ²⁶Mg (‰)",
                   "axis": {"values": [-0.15,-0.1,-0.05,0,0.05,0.1,0.15], "format": ".2f", "domainColor": "#111", "domainWidth": 1.5, "tickColor": "#111", "tickWidth": 1, "tickSize": 6, "labelFontSize": 11, "labelColor": "#1a1a1a", "labelPadding": 2, "titleFontSize": 11.5, "titleColor": "#1a1a1a", "titlePadding": 7, "titleY": 93}},
             "y2": {"field": "y2"}
           }},
          {"data": {"name": "rbLines"}, "mark": {"type": "text", "align": "left", "baseline": "middle", "color": "#1a1a1a"},
           "encoding": {
             "x": {"field": "tx", "type": "quantitative", "scale": {"domain": [0, 40.25], "nice": false, "zero": false}, "axis": null},
             "y": {"field": "ty", "type": "quantitative", "scale": {"domain": [-0.198, 0.2343], "nice": false, "zero": false}, "title": "Δ²⁶Mg (‰)",
                   "axis": {"values": [-0.15,-0.1,-0.05,0,0.05,0.1,0.15], "format": ".2f", "domainColor": "#111", "domainWidth": 1.5, "tickColor": "#111", "tickWidth": 1, "tickSize": 6, "labelFontSize": 11, "labelColor": "#1a1a1a", "labelPadding": 2, "titleFontSize": 11.5, "titleColor": "#1a1a1a", "titlePadding": 7, "titleY": 93}},
             "text": {"field": "t"},
             "size": {"condition": {"test": "datum.tx < 5", "value": 12}, "value": 10}
           }}
        ]
      }
    ]
  }
]
}
